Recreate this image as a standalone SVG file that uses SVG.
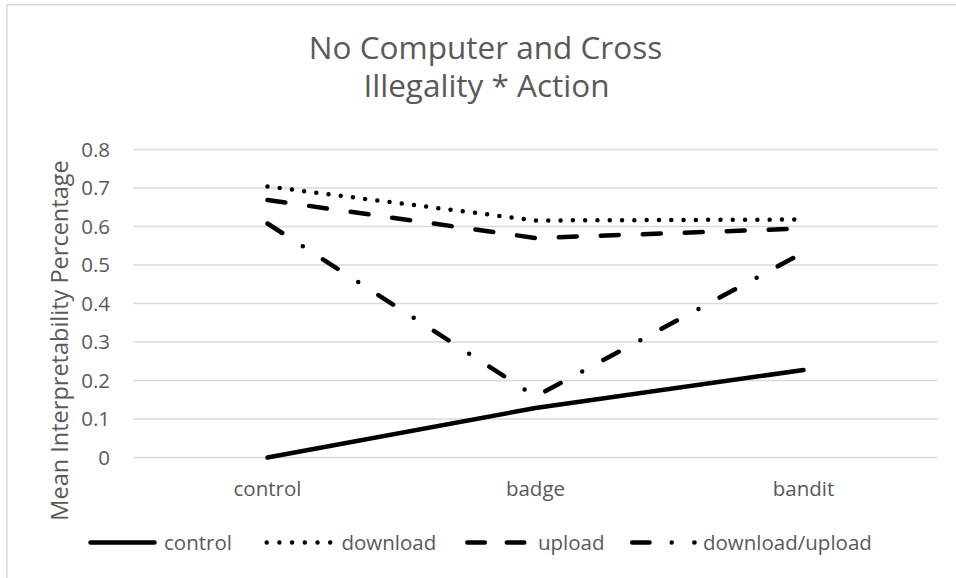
<svg xmlns="http://www.w3.org/2000/svg" width="956" height="578" viewBox="0 0 956 578">
<style>
text{font-family:"Open Sans","Liberation Sans",sans-serif;fill:#595959}
.tick{font-size:20.5px;text-anchor:end}
.cat{font-size:20.5px;text-anchor:middle}
.leg{font-size:20.5px}
.grid{stroke:#d9d9d9;stroke-width:1.5;fill:none}
.s{fill:none;stroke:#000;stroke-width:4.5;stroke-linecap:round;stroke-linejoin:round}
.solid{}
.dot{stroke-dasharray:0 12.3}
.dash{stroke-dasharray:18 24}
.dashdot{stroke-dasharray:17.5 24.5 0 24}
</style>
<rect x="0" y="0" width="956" height="578" fill="#fff"/>
<rect x="6.75" y="4.75" width="980" height="620" fill="none" stroke="#d9d9d9" stroke-width="1.5"/>
<g id="title">
<text x="485.5" y="59" font-size="31.5" text-anchor="middle">No Computer and Cross</text>
<text x="486.5" y="97" font-size="31.5" text-anchor="middle">Illegality * Action</text>
</g>
<g id="gridlines">
<line class="grid" x1="133.5" y1="149.5" x2="937.5" y2="149.5"/>
<line class="grid" x1="133.5" y1="188" x2="937.5" y2="188"/>
<line class="grid" x1="133.5" y1="226.5" x2="937.5" y2="226.5"/>
<line class="grid" x1="133.5" y1="265" x2="937.5" y2="265"/>
<line class="grid" x1="133.5" y1="303.5" x2="937.5" y2="303.5"/>
<line class="grid" x1="133.5" y1="342" x2="937.5" y2="342"/>
<line class="grid" x1="133.5" y1="380.5" x2="937.5" y2="380.5"/>
<line class="grid" x1="133.5" y1="419" x2="937.5" y2="419"/>
<line class="grid" x1="133.5" y1="457.5" x2="937.5" y2="457.5"/>
</g>
<g id="y-axis">
<text class="tick" x="110" y="156.8">0.8</text>
<text class="tick" x="110" y="195.3">0.7</text>
<text class="tick" x="110" y="233.8">0.6</text>
<text class="tick" x="110" y="272.3">0.5</text>
<text class="tick" x="110" y="310.8">0.4</text>
<text class="tick" x="110" y="349.3">0.3</text>
<text class="tick" x="110" y="387.8">0.2</text>
<text class="tick" x="110" y="426.3">0.1</text>
<text class="tick" x="110" y="464.8">0</text>
<text x="68" y="340.5" font-size="23.5" text-anchor="middle" transform="rotate(-90 68 340.5)">Mean Interpretability Percentage</text>
</g>
<g id="x-axis">
<text class="cat" x="267.5" y="496">control</text>
<text class="cat" x="535.5" y="496">badge</text>
<text class="cat" x="803.5" y="496">bandit</text>
</g>
<g id="series">
<polyline id="series-control" class="s solid" points="267.5,457.5 535.5,408 803.5,370"/>
<polyline id="series-download" class="s dot" points="267.5,186.5 535.5,220.5 803.5,219.5"/>
<polyline id="series-upload" class="s dash" points="267.5,200 535.5,238 803.5,228.5"/>
<polyline id="series-download-upload" class="s dashdot" points="267.5,223.5 535.5,396.5 803.5,252.5"/>
</g>
<g id="legend">
<g id="legend-control">
<line class="s" x1="90.5" y1="542.5" x2="154.5" y2="542.5"/>
<text class="leg" x="164" y="550">control</text>
</g>
<g id="legend-download">
<line class="s" x1="266.7" y1="542.5" x2="330.5" y2="542.5" stroke-dasharray="0 12.7"/>
<text class="leg" x="341.5" y="550">download</text>
</g>
<g id="legend-upload">
<line class="s" x1="467.3" y1="542.5" x2="524.5" y2="542.5" stroke-dasharray="17.5 22"/>
<text class="leg" x="538" y="550">upload</text>
</g>
<g id="legend-download-upload">
<line class="s" x1="632.2" y1="542.5" x2="694.5" y2="542.5" stroke-dasharray="17.3 22.2 0 22.6"/>
<text class="leg" x="703" y="550">download/upload</text>
</g>
</g>
</svg>
